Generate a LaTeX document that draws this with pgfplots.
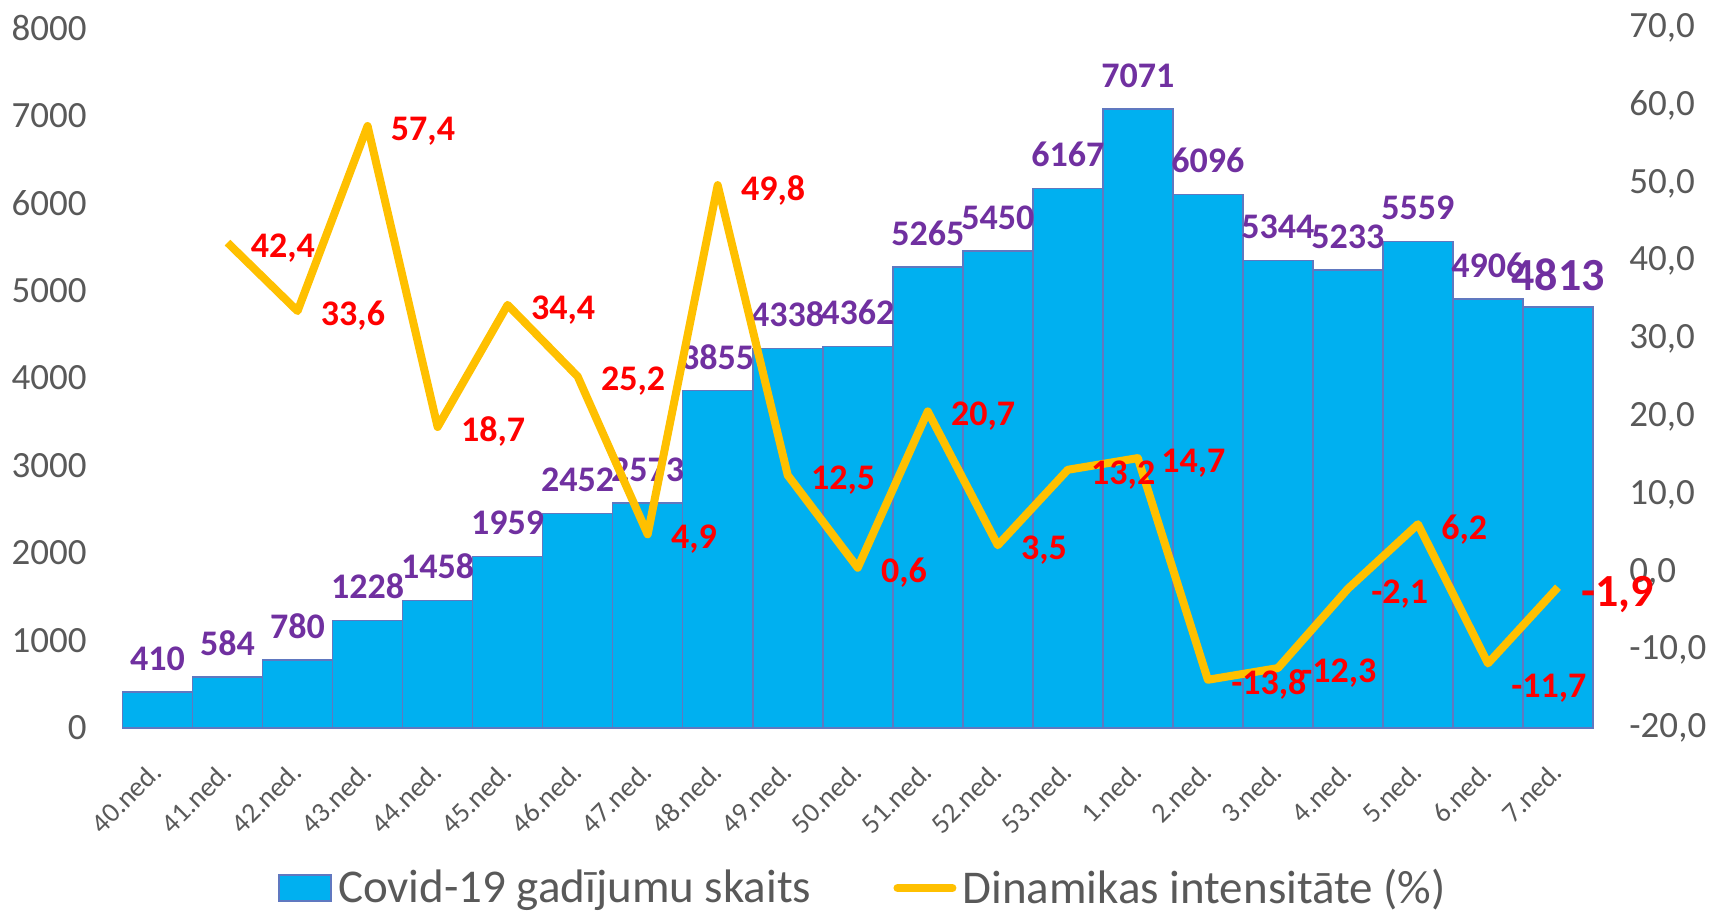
\documentclass[border=0pt]{standalone}
\usepackage{pgfplots}
\pgfplotsset{compat=1.18}
\usepackage{fontspec}
\setmainfont{Carlito}
\definecolor{barblue}{HTML}{00B0F0}
\definecolor{baredge}{HTML}{6078C0}
\definecolor{lineyel}{HTML}{FFC000}
\definecolor{labpurple}{HTML}{7030A0}
\definecolor{labred}{HTML}{FF0000}
\definecolor{txtgray}{HTML}{595959}
\pgfplotstableread{
x y
0 410
1 584
2 780
3 1228
4 1458
5 1959
6 2452
7 2573
8 3855
9 4338
10 4362
11 5265
12 5450
13 6167
14 7071
15 6096
16 5344
17 5233
18 5559
19 4906
20 4813
}\cases
\pgfplotstableread{
x y
1 42.4
2 33.6
3 57.4
4 18.7
5 34.4
6 25.2
7 4.9
8 49.8
9 12.5
10 0.6
11 20.7
12 3.5
13 13.2
14 14.7
15 -13.8
16 -12.3
17 -2.1
18 6.2
19 -11.7
20 -1.9
}\dyn
\begin{document}
\begin{tikzpicture}
\path[use as bounding box] (-61.25pt,-92.5pt) rectangle (793.25pt,364pt);
\pgfplotsset{
 common/.style={
  scale only axis, width=735.25pt, height=350pt,
  at={(0pt,0pt)}, anchor=south west,
  xmin=-0.5, xmax=20.5,
  axis line style={draw=none}, tick style={draw=none},
  major tick length=0pt,
  clip=false,
 },
}
\begin{axis}[common,
  ymin=0, ymax=8000,
  ytick={0,1000,...,8000},
  yticklabels={0,1000,2000,3000,4000,5000,6000,7000,8000},
  yticklabel style={font=\fontsize{18.5}{22}\selectfont, text=txtgray, anchor=east, inner sep=0pt, xshift=-17.75pt},
  xtick={0,...,20},
  xticklabels={40.ned.,41.ned.,42.ned.,43.ned.,44.ned.,45.ned.,46.ned.,47.ned.,48.ned.,49.ned.,50.ned.,51.ned.,52.ned.,53.ned.,1.ned.,2.ned.,3.ned.,4.ned.,5.ned.,6.ned.,7.ned.},
  xticklabel style={font=\fontsize{14}{16}\selectfont, text=txtgray, inner sep=0pt, xshift=-4pt, yshift=-16pt, rotate=45, anchor=north east},
]
\addplot[ybar, bar width=1, fill=barblue, draw=baredge, line width=0.8pt] table[x=x,y=y] {\cases};
\addplot[draw=none, mark=none, nodes near coords, point meta=explicit symbolic,
  every node near coord/.append style={anchor=south, inner sep=0pt, yshift=10.5pt, font=\bfseries\fontsize{18}{22}\selectfont, text=labpurple}]
  table[x=x,y=y,meta=y] {
x y
0 410
1 584
2 780
3 1228
4 1458
5 1959
6 2452
7 2573
8 3855
9 4338
10 4362
11 5265
12 5450
13 6167
14 7071
15 6096
16 5344
17 5233
18 5559
19 4906
};
\addplot[draw=none, mark=none, nodes near coords, point meta=explicit symbolic,
  every node near coord/.append style={anchor=south, inner sep=0pt, yshift=7.6pt, font=\bfseries\fontsize{23}{27}\selectfont, text=labpurple}]
  table[x=x,y=y,meta=y] {
x y
20 4813
};
\end{axis}
\begin{axis}[common,
  axis y line*=right, axis x line=none,
  ymin=-20, ymax=70,
  ytick={-20,-10,...,70},
  yticklabels={{-20,0},{-10,0},{0,0},{10,0},{20,0},{30,0},{40,0},{50,0},{60,0},{70,0}},
  yticklabel style={font=\fontsize{18.5}{22}\selectfont, text=txtgray, anchor=west, inner sep=0pt, xshift=18pt},
  legend style={at={(axis description cs:0.503,-0.2286)}, anchor=center, draw=none, fill=none,
    legend columns=2, font=\fontsize{23.5}{28}\selectfont, text=txtgray,
    nodes={inner sep=0pt},
    /tikz/every odd column/.append style={column sep=3pt},
    /tikz/every even column/.append style={column sep=41pt}},
]
\addlegendimage{legend image code/.code={\draw[fill=barblue,draw=baredge,line width=0.8pt] (0pt,-6.5pt) rectangle (26pt,6.5pt);}}
\addlegendentry{Covid-19 gadījumu skaits}
\addplot[lineyel, line width=4pt, line join=round, mark=none,
  legend image code/.code={\draw[lineyel, line width=4pt, line cap=round] (0pt,0pt) -- (27.5pt,0pt);}]
  table[x=x,y=y] {\dyn};
\addlegendentry{Dinamikas intensitāte (\%)}
\addplot[forget plot, draw=none, mark=none, nodes near coords, point meta=explicit symbolic,
  every node near coord/.append style={anchor=west, inner sep=0pt, xshift=11.5pt, yshift=-2.5pt, font=\bfseries\fontsize{18}{22}\selectfont, text=labred}]
  table[x=x,y=y,meta=lab] {
x y lab
1 42.4 {42,4}
2 33.6 {33,6}
3 57.4 {57,4}
4 18.7 {18,7}
5 34.4 {34,4}
6 25.2 {25,2}
7 4.9 {4,9}
8 49.8 {49,8}
9 12.5 {12,5}
10 0.6 {0,6}
11 20.7 {20,7}
12 3.5 {3,5}
13 13.2 {13,2}
14 14.7 {14,7}
15 -13.8 {-13,8}
16 -12.3 {-12,3}
17 -2.1 {-2,1}
18 6.2 {6,2}
};
\addplot[forget plot, draw=none, mark=none, nodes near coords, point meta=explicit symbolic,
  every node near coord/.append style={anchor=west, inner sep=0pt, xshift=11.5pt, yshift=-12.5pt, font=\bfseries\fontsize{18}{22}\selectfont, text=labred}]
  table[x=x,y=y,meta=lab] {
x y lab
19 -11.7 {-11,7}
};
\addplot[forget plot, draw=none, mark=none, nodes near coords, point meta=explicit symbolic,
  every node near coord/.append style={anchor=west, inner sep=0pt, xshift=11.5pt, yshift=-3.5pt, font=\bfseries\fontsize{23}{27}\selectfont, text=labred}]
  table[x=x,y=y,meta=lab] {
x y lab
20 -1.9 {-1,9}
};
\end{axis}
\end{tikzpicture}
\end{document}
